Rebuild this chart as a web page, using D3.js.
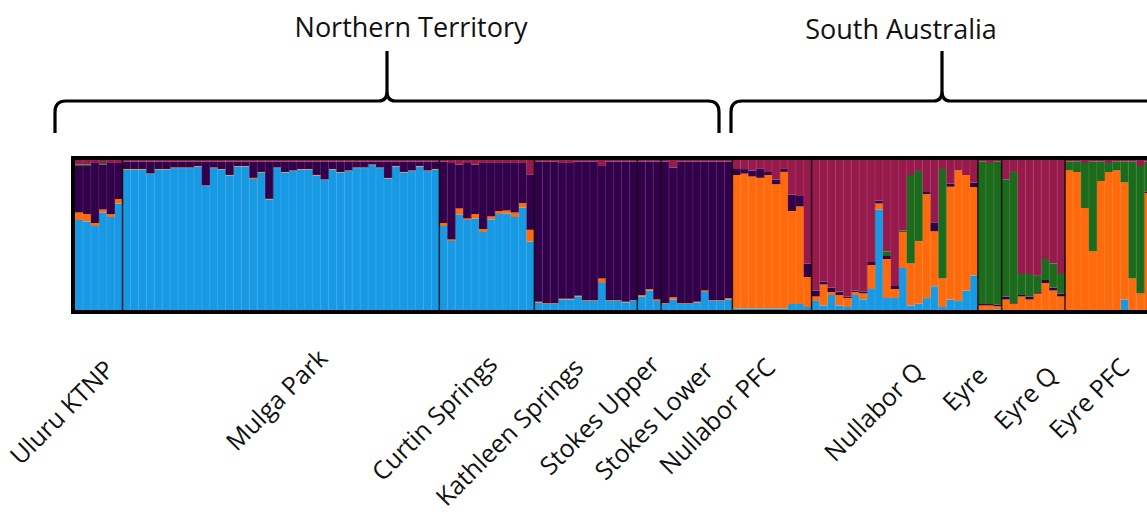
<!DOCTYPE html>
<html>
<head>
<meta charset="utf-8">
<script src="https://cdn.jsdelivr.net/npm/d3@7"></script>
<style>
  html, body { margin: 0; padding: 0; background: #ffffff; }
  svg { display: block; }
  text { font-family: "Open Sans", "DejaVu Sans", sans-serif; fill: #111; }
</style>
</head>
<body>
<svg id="chart" width="1147" height="526"></svg>
<script>
// ---------------- DATA ----------------
const populations = ["Uluru KTNP","Mulga Park","Curtin Springs","Kathleen Springs","Stokes Upper","Stokes Lower","Nullabor PFC","Nullabor Q","Eyre","Eyre Q","Eyre PFC"];
const popSizes    = [6, 40, 12, 13, 3, 9, 10, 21, 3, 8, 11];
const regions     = ["Northern Territory", "South Australia"];
const clusters    = ["K1", "K2", "K3", "K4", "K5"];

// ancestry proportions per individual (in population order)
const k1Blue = [
  .60,.59,.56,.65,.62,.71,
  .94,.94,.94,.91,.94,.94,.95,.95,.95,.96,.83,.95,.94,.90,.96,.96,.88,.92,.74,.95,.92,.93,.94,.94,.90,.87,.94,.92,.93,.95,.95,.97,.95,.88,.96,.92,.93,.96,.93,.94,
  .56,.46,.63,.60,.61,.52,.61,.64,.65,.62,.69,.46,
  .05,.04,.04,.07,.07,.09,.06,.06,.18,.06,.06,.05,.06,
  .09,.13,.06,
  .04,.07,.04,.04,.05,.12,.06,.06,.07,
  .01,.01,.01,.01,.01,.01,.01,.04,.04,.02,
  .06,.03,.10,.03,.02,.10,.07,.14,.67,.08,.08,.28,.03,.04,.08,.16,.02,.07,.06,.13,.23,
  0,0,.005,
  0,0,0,0,0,0,0,0,
  0,0,0,0,0,0,0,.07,0,0,0
];
const k2Orange = [
  .05,.05,.02,.02,.02,.03,
  .004,.004,.004,.004,.004,.004,.004,.004,.004,.004,.004,.004,.004,.004,.004,.004,.008,.004,.004,.004,.004,.004,.004,.004,.004,.004,.004,.004,.004,.004,.004,.004,.004,.004,.004,.004,.004,.004,.004,.004,
  .02,.01,.04,.01,.03,.02,.02,.02,.02,.03,.03,.08,
  .005,.005,.005,.005,.005,.005,.005,.005,.03,.005,.005,.005,.005,
  .01,.01,.01,
  .005,.015,.005,.005,.005,.01,.005,.005,.01,
  .89,.89,.88,.88,.89,.82,.92,.62,.65,.20,
  .03,.14,.02,.07,.06,.02,.04,.16,.04,.26,.06,.24,.28,.40,.70,.37,.19,.76,.88,.77,.59,
  .03,.03,.02,
  .07,.04,.09,.07,.11,.18,.13,.09,
  .93,.92,.68,.39,.86,.92,.93,.78,.21,.11,.78
];
const k3Purple = [
  .31,.32,.40,.30,.34,.24,
  .05,.05,.05,.08,.05,.05,.04,.04,.04,.03,.16,.04,.05,.09,.03,.03,.11,.07,.25,.04,.07,.06,.05,.05,.09,.12,.05,.07,.06,.04,.04,.02,.04,.11,.03,.07,.06,.03,.06,.05,
  .41,.51,.29,.37,.33,.44,.36,.32,.32,.33,.27,.37,
  .93,.94,.94,.90,.90,.89,.92,.92,.75,.92,.92,.93,.92,
  .89,.85,.92,
  .94,.86,.94,.94,.93,.86,.92,.92,.91,
  .04,.03,.04,.06,.02,.03,.02,.11,.07,.09,
  .04,.02,.03,.02,.01,.01,.01,.02,.02,.02,.02,0,0,0,.02,.06,0,.02,0,0,.03,
  .01,.01,.01,
  .02,.005,.01,.02,.01,.02,.02,.02,
  0,0,0,0,0,0,0,0,0,0,.01
];
const k4Green = [
  .01,.01,0,.01,0,0,
  0,0,0,0,0,0,0,0,0,0,0,0,0,0,0,0,0,0,0,0,0,0,0,0,0,0,0,0,0,0,0,0,0,0,0,0,0,0,0,0,
  0,0,0,0,0,0,0,0,0,0,0,0,
  0,0,0,0,0,0,0,0,0,0,0,0,0,
  0,0,0,
  0,0,0,0,0,0,0,0,0,
  0,0,0,0,0,0,0,0,0,0,
  0,0,0,.005,0,0,0,0,0,.03,0,.01,.59,.45,0,0,.73,0,0,0,0,
  .95,.95,.96,
  .78,.88,.14,.15,.11,.14,.16,.13,
  .06,.07,.30,.60,.13,.06,.06,.14,.78,.85,.20
];
const k5Magenta = [
  .03,.03,.02,.02,.02,.02,
  .01,.01,.01,.01,.01,.01,.01,.01,.01,.01,.01,.01,.01,.01,.01,.01,.01,.01,.01,.01,.01,.01,.01,.01,.01,.01,.01,.01,.01,.01,.01,.01,.01,.01,.01,.01,.01,.01,.01,.01,
  .01,.02,.03,.02,.03,.02,.02,.02,.02,.02,.02,.10,
  .01,.01,.01,.02,.02,.01,.01,.01,.04,.01,.01,.01,.01,
  .01,.01,.01,
  .01,.05,.01,.01,.01,.01,.01,.01,.01,
  .06,.06,.07,.06,.08,.13,.06,.23,.24,.69,
  .87,.81,.85,.88,.91,.87,.87,.68,.27,.61,.84,.47,.10,.07,.21,.42,.06,.16,.07,.10,.15,
  .01,.02,.01,
  .13,.08,.76,.76,.78,.66,.69,.76,
  .01,.01,.02,.01,.01,.02,.01,.01,.01,.04,.01
];

// ---------------- LAYOUT ----------------
const W = 1147, H = 526;
const plot = { left: 75, top: 160, bottom: 310, barW: 7.92 };
const colors = { K1: "#1899e4", K2: "#ff6b0c", K3: "#32004a", K4: "#1c6b1c", K5: "#971a4d" };
const labelEnds = [[116,371],[329,360],[499,366],[585,369],[661,366],[715,372],[777,369],[925,373],[989,377],[1059,377],[1131,369]];
const brackets = [
  { x0: 55, x1: 719, peak: 387, text: 411, textY: 37 },
  { x0: 731, x1: 1160, peak: 942, text: 901, textY: 39 }
];
const bracketY = 101, bracketEndY = 133, peakY = 51;

// ---------------- BUILD ----------------
const n = k1Blue.length;
const individuals = d3.range(n).map(i => ({
  id: i, K1: k1Blue[i], K2: k2Orange[i], K3: k3Purple[i], K4: k4Green[i], K5: k5Magenta[i]
}));

const svg = d3.select("#chart");

const x = d3.scaleBand()
  .domain(d3.range(n))
  .range([plot.left, plot.left + n * plot.barW])
  .paddingInner(0).paddingOuter(0);

const y = d3.scaleLinear().domain([0, 1]).range([plot.bottom, plot.top]);

const stack = d3.stack().keys(clusters).offset(d3.stackOffsetExpand);
const series = stack(individuals);

const gBars = svg.append("g");
gBars.selectAll("g.layer")
  .data(series)
  .join("g")
  .attr("class", "layer")
  .attr("fill", d => colors[d.key])
  .selectAll("rect")
  .data(d => d)
  .join("rect")
  .attr("x", d => x(d.data.id))
  .attr("width", x.bandwidth() + 0.4)
  .attr("y", d => y(d[1]))
  .attr("height", d => Math.max(0, y(d[0]) - y(d[1])));

// population boundaries
const popStarts = [];
let acc = 0;
popSizes.forEach(s => { popStarts.push(acc); acc += s; });

// faint individual separators
const popStartSet = new Set(popStarts);
gBars.selectAll("line.ind")
  .data(d3.range(1, n).filter(i => !popStartSet.has(i)))
  .join("line")
  .attr("class", "ind")
  .attr("x1", i => x(i)).attr("x2", i => x(i))
  .attr("y1", plot.top).attr("y2", plot.bottom)
  .attr("stroke", "#ffffff").attr("stroke-opacity", 0.15).attr("stroke-width", 0.8);

gBars.selectAll("line.pop")
  .data(popStarts.slice(1))
  .join("line")
  .attr("class", "pop")
  .attr("x1", i => x(i)).attr("x2", i => x(i))
  .attr("y1", plot.top).attr("y2", plot.bottom)
  .attr("stroke", "#0a0a0a").attr("stroke-opacity", 0.85).attr("stroke-width", 1.5);

// frame
svg.append("rect")
  .attr("x", plot.left - 2)
  .attr("y", plot.top - 2)
  .attr("width", n * plot.barW + 4)
  .attr("height", plot.bottom - plot.top + 4)
  .attr("fill", "none")
  .attr("stroke", "#000")
  .attr("stroke-width", 4);

// population labels
svg.append("g").selectAll("text")
  .data(populations)
  .join("text")
  .attr("transform", (d, i) => `translate(${labelEnds[i][0]},${labelEnds[i][1]}) rotate(-45)`)
  .attr("text-anchor", "end")
  .style("font-size", "25px")
  .text(d => d);

// region brackets
const r = 11;
function bracketPath(b) {
  const p = d3.path();
  p.moveTo(b.x0, bracketEndY);
  p.lineTo(b.x0, bracketY + r);
  p.quadraticCurveTo(b.x0, bracketY, b.x0 + r, bracketY);
  p.lineTo(b.peak - 8, bracketY);
  p.quadraticCurveTo(b.peak, bracketY, b.peak, bracketY - 10);
  p.lineTo(b.peak, peakY);
  p.moveTo(b.peak, bracketY - 10);
  p.quadraticCurveTo(b.peak, bracketY, b.peak + 8, bracketY);
  p.lineTo(b.x1 - r, bracketY);
  p.quadraticCurveTo(b.x1, bracketY, b.x1, bracketY + r);
  p.lineTo(b.x1, bracketEndY);
  return p.toString();
}
const gReg = svg.append("g");
gReg.selectAll("path")
  .data(brackets)
  .join("path")
  .attr("d", bracketPath)
  .attr("fill", "none")
  .attr("stroke", "#000")
  .attr("stroke-width", 3.2)
  .attr("stroke-linejoin", "round");

gReg.selectAll("text")
  .data(regions)
  .join("text")
  .attr("x", (d, i) => brackets[i].text)
  .attr("y", (d, i) => brackets[i].textY)
  .attr("text-anchor", "middle")
  .style("font-size", "27px")
  .text(d => d);
</script>
</body>
</html>
